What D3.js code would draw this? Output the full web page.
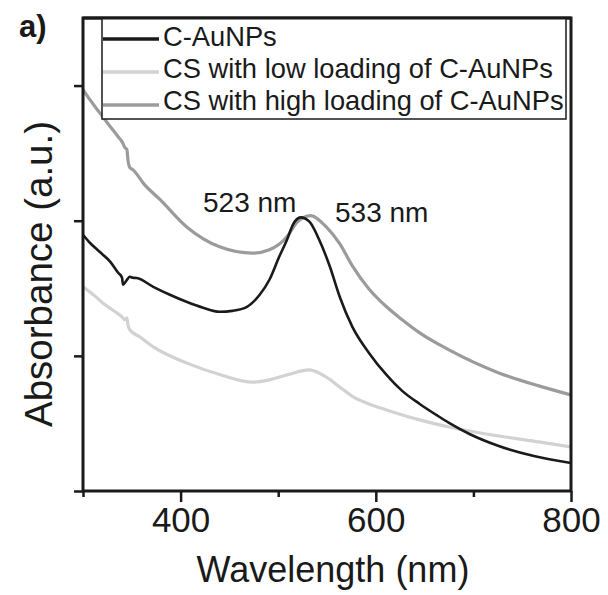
<!DOCTYPE html>
<html>
<head>
<meta charset="utf-8">
<script src="https://cdn.jsdelivr.net/npm/d3@7"></script>
<style>
  html, body { margin: 0; padding: 0; background: #fff; }
  svg { display: block; }
  text { font-family: "Liberation Sans", Arial, Helvetica, sans-serif; fill: #1a1a1a; }
</style>
</head>
<body>
<svg id="chart" width="608" height="595"></svg>
<script>
// ---- Data ----
const seriesNames = ["C-AuNPs", "CS with low loading of C-AuNPs", "CS with high loading of C-AuNPs"];
const seriesColors = ["#1a1a1a", "#d2d2d2", "#9b9b9b"];

// C-AuNPs: [wavelength nm, absorbance a.u.]
const cAuNPs = [
  [300,1.896],[307,1.837],[317,1.770],[328,1.696],[336,1.615],[340,1.578],[341,1.526],[345,1.563],
  [348,1.585],[351,1.578],[355,1.576],[372,1.511],[389,1.452],[406,1.400],[423,1.356],[440,1.326],
  [453,1.333],[468,1.363],[481,1.452],[491,1.563],[501,1.733],[509,1.859],[515,1.970],[523,2.025],
  [532,1.993],[542,1.859],[553,1.659],[563,1.437],[576,1.215],[593,1.022],[611,0.859],[627,0.741],
  [645,0.644],[662,0.563],[675,0.504],[696,0.422],[726,0.333],[762,0.259],[800,0.207]
];
// CS with low loading of C-AuNPs
const csLow = [
  [300,1.511],[312,1.444],[320,1.393],[333,1.326],[340,1.289],[343,1.267],[345,1.281],[346,1.230],
  [348,1.193],[358,1.141],[372,1.067],[406,0.948],[440,0.862],[474,0.805],[491,0.822],[509,0.859],
  [532,0.896],[549,0.844],[563,0.770],[576,0.700],[593,0.644],[611,0.600],[645,0.526],[675,0.474],
  [726,0.407],[767,0.363],[800,0.326]
];
// CS with high loading of C-AuNPs
const csHigh = [
  [300,2.970],[307,2.896],[317,2.800],[328,2.696],[336,2.622],[340,2.585],[343,2.541],[345,2.526],
  [346,2.452],[348,2.393],[351,2.378],[363,2.267],[379,2.156],[406,1.956],[440,1.807],[474,1.760],
  [491,1.785],[509,1.881],[519,1.985],[533,2.037],[549,1.956],[563,1.830],[576,1.666],[593,1.495],
  [611,1.363],[627,1.267],[645,1.170],[675,1.044],[726,0.874],[767,0.778],[800,0.711]
];
const xMajorTicks = [400, 600, 800];
const xMinorTicks = [300, 500, 700];
const yTicks = [0, 1, 2, 3];
const peakLabels = ["523 nm", "533 nm"];

// ---- Layout ----
const svg = d3.select("#chart");
const mLeft = 83, mRight = 571, mTop = 18, mBottom = 491;
const x = d3.scaleLinear().domain([300, 800]).range([mLeft, mRight]);
const y = d3.scaleLinear().domain([0, 3.5]).range([mBottom, mTop]);

// curves (drawn first so frame overlays)
const line = d3.line().x(d => x(d[0])).y(d => y(d[1])).curve(d3.curveMonotoneX);
const plotSeries = [csLow, csHigh, cAuNPs];
const plotColors = [seriesColors[1], seriesColors[2], seriesColors[0]];
const plotWidths = [3.2, 3.2, 2.6];
svg.append("defs").append("clipPath").attr("id", "clip")
  .append("rect").attr("x", mLeft).attr("y", mTop).attr("width", mRight - mLeft).attr("height", mBottom - mTop);
const g = svg.append("g").attr("clip-path", "url(#clip)");
plotSeries.forEach((s, i) => {
  g.append("path").datum(s).attr("d", line)
    .attr("fill", "none").attr("stroke", plotColors[i])
    .attr("stroke-width", plotWidths[i]).attr("stroke-linejoin", "round").attr("stroke-linecap", "round");
});

// frame
svg.append("rect").attr("x", mLeft).attr("y", mTop).attr("width", mRight - mLeft).attr("height", mBottom - mTop)
  .attr("fill", "none").attr("stroke", "#1a1a1a").attr("stroke-width", 3);

// x axis ticks
const xAxisMajor = d3.axisBottom(x).tickValues(xMajorTicks).tickSize(11).tickSizeOuter(0).tickPadding(5);
const xAxisMinor = d3.axisBottom(x).tickValues(xMinorTicks).tickSize(6).tickSizeOuter(0).tickFormat("");
const gxMinor = svg.append("g").attr("transform", `translate(0,${mBottom})`).call(xAxisMinor);
const gxMajor = svg.append("g").attr("transform", `translate(0,${mBottom})`).call(xAxisMajor);
[gxMinor, gxMajor].forEach(gx => {
  gx.select(".domain").remove();
  gx.selectAll(".tick line").attr("stroke", "#1a1a1a").attr("stroke-width", 2.5);
});
gxMajor.selectAll(".tick text").attr("font-size", 35).attr("fill", "#1a1a1a")
  .style("font-family", "Liberation Sans, Arial, sans-serif");

// y axis ticks
const yAxis = d3.axisLeft(y).tickValues(yTicks).tickSize(9).tickSizeOuter(0).tickFormat("");
const gy = svg.append("g").attr("transform", `translate(${mLeft},0)`).call(yAxis);
gy.select(".domain").remove();
gy.selectAll(".tick line").attr("stroke", "#1a1a1a").attr("stroke-width", 2.5);

// axis titles
svg.append("text").attr("x", 333).attr("y", 582)
  .attr("text-anchor", "middle").attr("font-size", 36).text("Wavelength (nm)");
svg.append("text").attr("transform", `translate(52,274) rotate(-90)`)
  .attr("text-anchor", "middle").attr("font-size", 38.5).text("Absorbance (a.u.)");

// panel label
svg.append("text").attr("x", 19).attr("y", 37).attr("font-size", 31).attr("font-weight", "bold").text("a)");

// peak labels
svg.append("text").attr("x", 203).attr("y", 212).attr("font-size", 28).text(peakLabels[0]);
svg.append("text").attr("x", 335).attr("y", 222).attr("font-size", 28).text(peakLabels[1]);

// legend
const legX = 102, legY = mTop, legW = 464, legH = 101;
svg.append("rect").attr("x", legX).attr("y", legY).attr("width", legW).attr("height", legH)
  .attr("fill", "#fff").attr("stroke", "#1a1a1a").attr("stroke-width", 1.5);
svg.append("line").attr("x1", mLeft).attr("x2", mRight).attr("y1", mTop).attr("y2", mTop)
  .attr("stroke", "#1a1a1a").attr("stroke-width", 3);
const rowY = [39, 72, 105];
const rowBase = [46, 78, 110];
seriesNames.forEach((name, i) => {
  svg.append("line").attr("x1", 103).attr("x2", 159).attr("y1", rowY[i]).attr("y2", rowY[i])
    .attr("stroke", seriesColors[i]).attr("stroke-width", 3.5);
  svg.append("text").attr("x", 163).attr("y", rowBase[i]).attr("font-size", 27.3).text(name);
});
</script>
</body>
</html>
